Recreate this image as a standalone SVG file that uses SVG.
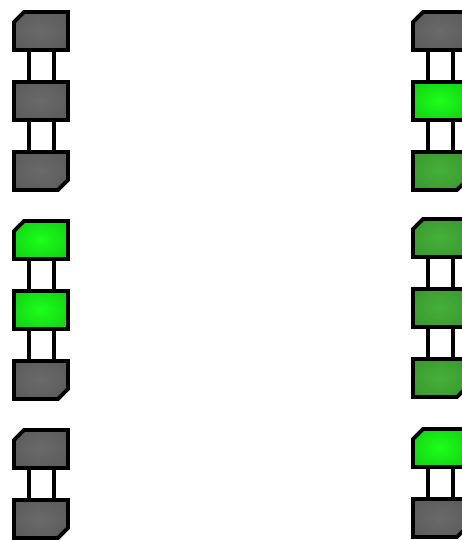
<svg xmlns="http://www.w3.org/2000/svg" width="462" height="540" viewBox="0 0 462 540">
<defs>
<radialGradient id="gGray" cx="50%" cy="50%" r="60%"><stop offset="0" stop-color="#6a6a6a"/><stop offset="1" stop-color="#5c5c5c"/></radialGradient>
<radialGradient id="gBright" cx="50%" cy="50%" r="60%"><stop offset="0" stop-color="#1cff1c"/><stop offset="1" stop-color="#14d414"/></radialGradient>
<radialGradient id="gDark" cx="50%" cy="50%" r="60%"><stop offset="0" stop-color="#46b03a"/><stop offset="1" stop-color="#3a9a30"/></radialGradient>
<path id="top" d="M10,0 H54 V38 H0 V10 Z"/>
<path id="mid" d="M0,0 H54 V38 H0 Z"/>
<path id="bot" d="M0,0 H54 V28 L44,38 H0 Z"/>
</defs>
<style>
.n{stroke:#000;stroke-width:4;stroke-linejoin:miter}
.gray{fill:url(#gGray)}
.bright{fill:url(#gBright)}
.dark{fill:url(#gDark)}
.c line{stroke:#000;stroke-width:4}
</style>
<g id="connectors" class="c">
<line x1="29" y1="50" x2="29" y2="82"/><line x1="54" y1="50" x2="54" y2="82"/>
<line x1="29" y1="120" x2="29" y2="152"/><line x1="54" y1="120" x2="54" y2="152"/>
<line x1="29" y1="259" x2="29" y2="291"/><line x1="54" y1="259" x2="54" y2="291"/>
<line x1="29" y1="329" x2="29" y2="361"/><line x1="54" y1="329" x2="54" y2="361"/>
<line x1="29" y1="468" x2="29" y2="500"/><line x1="54" y1="468" x2="54" y2="500"/>
<line x1="428" y1="50" x2="428" y2="82"/><line x1="453" y1="50" x2="453" y2="82"/>
<line x1="428" y1="120" x2="428" y2="152"/><line x1="453" y1="120" x2="453" y2="152"/>
<line x1="428" y1="257" x2="428" y2="289"/><line x1="453" y1="257" x2="453" y2="289"/>
<line x1="428" y1="327" x2="428" y2="359"/><line x1="453" y1="327" x2="453" y2="359"/>
<line x1="428" y1="467" x2="428" y2="499"/><line x1="453" y1="467" x2="453" y2="499"/>
</g>
<g id="L1a"><use href="#top" class="n gray" x="14" y="12"/></g>
<g id="L1b"><use href="#mid" class="n gray" x="14" y="82"/></g>
<g id="L1c"><use href="#bot" class="n gray" x="14" y="152"/></g>
<g id="L2a"><use href="#top" class="n bright" x="14" y="221"/></g>
<g id="L2b"><use href="#mid" class="n bright" x="14" y="291"/></g>
<g id="L2c"><use href="#bot" class="n gray" x="14" y="361"/></g>
<g id="L3a"><use href="#top" class="n gray" x="14" y="430"/></g>
<g id="L3b"><use href="#bot" class="n gray" x="14" y="500"/></g>
<g id="R1a"><use href="#top" class="n gray" x="413" y="12"/></g>
<g id="R1b"><use href="#mid" class="n bright" x="413" y="82"/></g>
<g id="R1c"><use href="#bot" class="n dark" x="413" y="152"/></g>
<g id="R2a"><use href="#top" class="n dark" x="413" y="219"/></g>
<g id="R2b"><use href="#mid" class="n dark" x="413" y="289"/></g>
<g id="R2c"><use href="#bot" class="n dark" x="413" y="359"/></g>
<g id="R3a"><use href="#top" class="n bright" x="413" y="429"/></g>
<g id="R3b"><use href="#bot" class="n gray" x="413" y="499"/></g>
</svg>
